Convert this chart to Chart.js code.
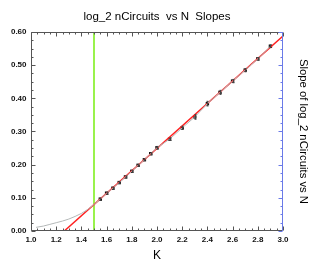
<!DOCTYPE html>
<html>
<head>
<meta charset="utf-8">
<script src="https://cdn.jsdelivr.net/npm/chart.js@4"></script>
<style>
html,body{margin:0;padding:0;background:#fff;}
canvas{display:block;}
</style>
</head>
<body>
<canvas id="c" width="314" height="262"></canvas>
<script>
// ---- data ----
const kSlope = [1.55,1.6,1.65,1.7,1.75,1.8,1.85,1.9,1.95,2.0,2.1,2.2,2.3,2.4,2.5,2.6,2.7,2.8,2.9];
const slopeVals = [0.096,0.114,0.129,0.146,0.163,0.180,0.198,0.215,0.233,0.251,0.277,0.311,0.344,0.384,0.418,0.452,0.485,0.519,0.557];
const slopeErr = [0.003,0.003,0.003,0.003,0.003,0.003,0.003,0.003,0.003,0.004,0.004,0.005,0.007,0.007,0.006,0.005,0.005,0.004,0.004];
const kCurve = [1.04,1.1,1.15,1.2,1.25,1.3,1.35,1.4,1.45,1.5];
const curveVals = [0.011,0.015,0.020,0.025,0.030,0.036,0.044,0.053,0.065,0.080];
const fitK = [1.264,3.0];
const fitVals = [0.0,0.588];
const cutK = [1.5,1.5];
const cutVals = [0.0,0.6];
const xTickLabels = ['1.0','1.2','1.4','1.6','1.8','2.0','2.2','2.4','2.6','2.8','3.0'];
const yTickLabels = ['0.00','0.10','0.20','0.30','0.40','0.50','0.60'];

const FONT = '"Liberation Sans", Arial, Helvetica, sans-serif';
const toXY = (xs, ys) => xs.map((x, i) => ({x: x, y: ys[i]}));

const frameTicks = {
  id: 'frameTicks',
  afterDatasetsDraw(chart) {
    const ctx = chart.ctx;
    const xs = chart.scales.x, ys = chart.scales.y;
    // error bars
    ctx.save();
    ctx.strokeStyle = '#444';
    ctx.lineWidth = 1;
    kSlope.forEach((k, i) => {
      const px = Math.round(xs.getPixelForValue(k)) + 0.5;
      const y1 = ys.getPixelForValue(slopeVals[i] - slopeErr[i]);
      const y2 = ys.getPixelForValue(slopeVals[i] + slopeErr[i]);
      ctx.beginPath(); ctx.moveTo(px, y1); ctx.lineTo(px, y2);
      ctx.moveTo(px - 1, y1); ctx.lineTo(px + 1, y1);
      ctx.moveTo(px - 1, y2); ctx.lineTo(px + 1, y2);
      ctx.stroke();
    });
    ctx.restore();
  },
  afterDraw(chart) {
    const ctx = chart.ctx, a = chart.chartArea;
    const xs = chart.scales.x, ys = chart.scales.y;
    const L = Math.round(a.left) + 0.5, R = Math.round(a.right) - 0.5;
    const T = Math.round(a.top) + 0.5, B = Math.round(a.bottom) - 0.5;
    ctx.save();
    ctx.lineWidth = 1;
    ctx.strokeStyle = '#555';
    ctx.beginPath();
    ctx.moveTo(R, T); ctx.lineTo(L, T); ctx.lineTo(L, B); ctx.lineTo(R, B);
    // x ticks (bottom and top), minor every 0.05, major every 0.2
    for (let i = 0; i <= 40; i++) {
      const v = 1 + i * 0.05;
      const px = Math.round(xs.getPixelForValue(v)) + 0.5;
      const len = (i % 4 === 0) ? 4 : 2;
      ctx.moveTo(px, B); ctx.lineTo(px, B - len);
      ctx.moveTo(px, T); ctx.lineTo(px, T + len);
    }
    // left y ticks, minor every 0.025, major every 0.1
    for (let i = 0; i <= 24; i++) {
      const v = i * 0.025;
      const py = Math.round(ys.getPixelForValue(v)) + 0.5;
      const len = (i % 4 === 0) ? 4 : 2;
      ctx.moveTo(L, py); ctx.lineTo(L + len, py);
    }
    ctx.stroke();
    // right axis in blue
    ctx.strokeStyle = '#6a7ae8';
    ctx.beginPath();
    ctx.moveTo(R, T - 0.5); ctx.lineTo(R, B + 0.5);
    for (let i = 0; i <= 24; i++) {
      const v = i * 0.025;
      const py = Math.round(ys.getPixelForValue(v)) + 0.5;
      const len = (i % 4 === 0) ? 4 : 2;
      ctx.moveTo(R, py); ctx.lineTo(R - len, py);
    }
    ctx.stroke();
    ctx.restore();
  }
};

new Chart(document.getElementById('c'), {
  type: 'scatter',
  data: {
    datasets: [
      {
        label: 'curve',
        data: toXY(kCurve.concat(kSlope), curveVals.concat(slopeVals)),
        showLine: true, borderColor: '#b4b8b8', borderWidth: 1,
        pointRadius: 0, fill: false, tension: 0
      },
      {
        label: 'fit',
        data: toXY(fitK, fitVals),
        showLine: true, borderColor: '#ff2020', borderWidth: 1.5,
        pointRadius: 0, fill: false
      },
      {
        label: 'slopes',
        data: toXY(kSlope, slopeVals),
        showLine: false, pointStyle: 'rect', pointRadius: 2.4,
        backgroundColor: '#111', borderColor: '#111', borderWidth: 0
      },
      {
        label: 'cut',
        data: toXY(cutK, cutVals),
        showLine: true, borderColor: '#77ee11', borderWidth: 1.5,
        pointRadius: 0, fill: false
      }
    ]
  },
  options: {
    responsive: false,
    animation: false,
    devicePixelRatio: 1,
    layout: { padding: 0 },
    plugins: {
      legend: { display: false },
      tooltip: { enabled: false },
      title: {
        display: true,
        text: 'log_2 nCircuits  vs N  Slopes',
        color: '#000',
        font: { family: FONT, size: 11.5, weight: 'normal', lineHeight: 1.2 },
        padding: { top: 10, bottom: 8.2 }
      }
    },
    scales: {
      x: {
        type: 'linear', position: 'bottom', min: 1, max: 3,
        afterBuildTicks: (s) => { s.ticks = xTickLabels.map(t => ({value: parseFloat(t)})); },
        ticks: {
          callback: (v, i) => xTickLabels[i],
          color: '#111', padding: 4, maxRotation: 0, autoSkip: false,
          font: { family: FONT, size: 8, weight: 'bold' }
        },
        grid: { display: false, drawTicks: false },
        border: { display: false },
        title: {
          display: true, text: 'K', color: '#000',
          font: { family: FONT, size: 12, lineHeight: 1 },
          padding: { top: 0, bottom: 0 }
        },
        afterFit: (s) => { s.height = 31; }
      },
      y: {
        type: 'linear', position: 'left', min: 0, max: 0.6,
        afterBuildTicks: (s) => { s.ticks = yTickLabels.map(t => ({value: parseFloat(t)})); },
        ticks: {
          callback: (v, i) => yTickLabels[i],
          color: '#111', padding: 4.5, autoSkip: false,
          font: { family: FONT, size: 8, weight: 'bold' }
        },
        grid: { display: false, drawTicks: false },
        border: { display: false },
        afterFit: (s) => { s.width = 31; }
      },
      y2: {
        type: 'linear', position: 'right', min: 0, max: 0.6,
        ticks: { display: false },
        grid: { display: false, drawTicks: false },
        border: { display: false },
        title: {
          display: true, text: 'Slope of log_2 nCircuits vs N', color: '#000',
          font: { family: FONT, size: 11.3, lineHeight: 1.2 },
          padding: { top: 4.2, bottom: 0 }
        },
        afterFit: (s) => { s.width = 31; }
      }
    }
  },
  plugins: [frameTicks]
});
</script>
</body>
</html>
